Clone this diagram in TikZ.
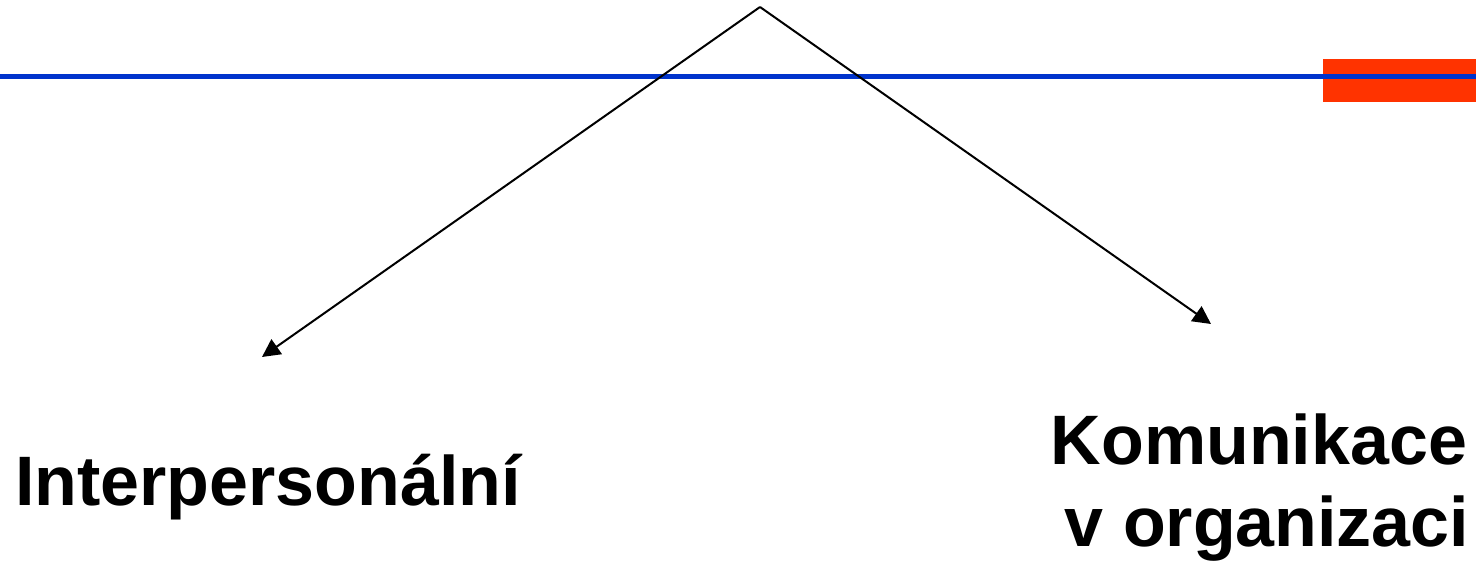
\documentclass[tikz,border=0pt]{standalone}
\usepackage{fontspec}
\setmainfont{Liberation Sans}
\usetikzlibrary{arrows.meta}
\definecolor{lineblue}{HTML}{0033CC}
\definecolor{barred}{HTML}{FF3300}
\begin{document}
\begin{tikzpicture}[x=1pt,y=1pt,
  arr/.style={line width=2pt,-{Triangle[length=18pt,width=18pt]}},
  label/.style={font=\bfseries\fontsize{70}{66}\selectfont,anchor=base,inner sep=0pt}]
\useasboundingbox (0,0) rectangle (1476,561);
\fill[barred] (1323,459) rectangle (1476,502);
\draw[lineblue,line width=5pt] (0,484.5) -- (1476,484.5);
\coordinate (apex) at (760,554);
\coordinate (ltip) at (262,204);
\coordinate (rtip) at (1211,237);
\draw[arr] (apex) -- (ltip);
\draw[arr] (apex) -- (rtip);
\node[label] (inter) at (268,55) {Interpersonální};
\node[label] (komu) at (1259,96) {Komunikace};
\node[label] (vorg) at (1267,14) {v organizaci};
\end{tikzpicture}
\end{document}
